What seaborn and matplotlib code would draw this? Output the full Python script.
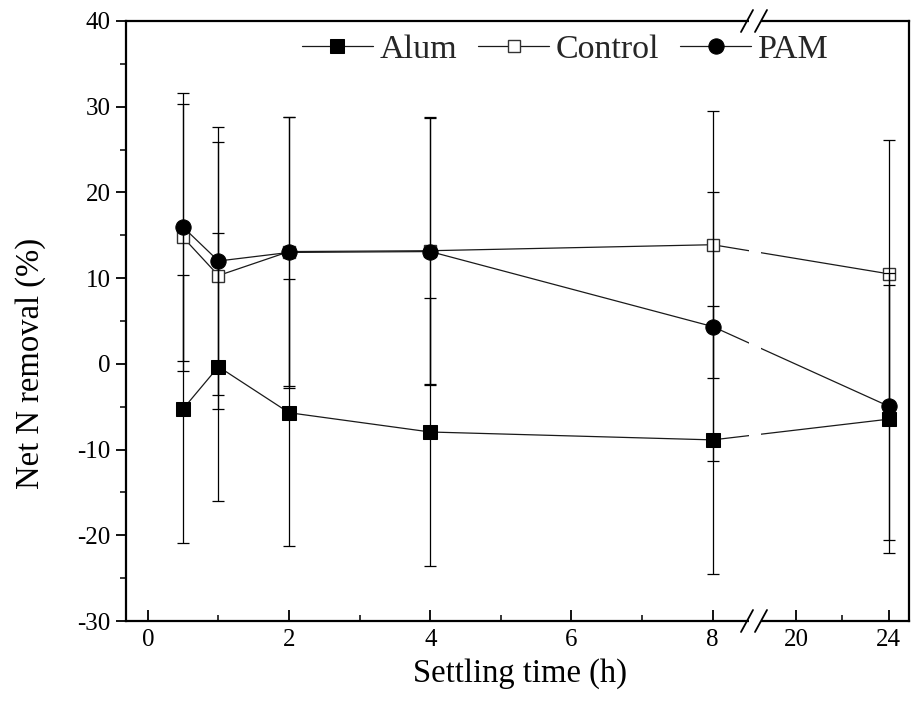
import numpy as np
import pandas as pd
import matplotlib
matplotlib.use("Agg")
import matplotlib.pyplot as plt
import seaborn as sns
from matplotlib.ticker import FixedLocator, FixedFormatter, MultipleLocator
from matplotlib.patches import Rectangle
from matplotlib.lines import Line2D

# ---------------- data ----------------
times = [0.5, 1, 2, 4, 8, 24]
alum = [-5.25, -0.33, -5.7, -7.95, -8.87, -6.45]
alum_err = [15.65, 15.65, 15.6, 15.63, 15.6, 15.6]
control = [14.75, 10.3, 13.1, 13.2, 13.9, 10.5]
control_err = [15.6, 15.6, 15.67, 15.6, 15.6, 15.6]
pam = [15.95, 12.0, 13.0, 13.1, 4.35, -4.95]
pam_err = [15.6, 15.6, 15.76, 15.6, 15.65, 15.6]

x_major = [0, 2, 4, 6, 8, 20, 24]
x_major_labels = ["0", "2", "4", "6", "8", "20", "24"]
x_minor = [1, 3, 5, 7, 22]
y_ticks = [-30, -20, -10, 0, 10, 20, 30, 40]

# ---------------- style ----------------
sns.set_theme(style="ticks")
plt.rcParams["font.family"] = ["Liberation Serif", "DejaVu Serif"]
plt.rcParams["axes.unicode_minus"] = False

W, H = 911, 723
fig = plt.figure(figsize=(W / 100, H / 100), dpi=100)
L, R, T, B = 126, 909, 21, 621
ax = fig.add_axes([L / W, 1 - B / H, (R - L) / W, (B - T) / H])

line_c = "#1a1a1a"
series = [
    ("Alum", alum, alum_err, dict(marker="s", markersize=9.5, markerfacecolor="black", markeredgecolor="black")),
    ("Control", control, control_err, dict(marker="s", markersize=9, markerfacecolor="white", markeredgecolor="#333333", markeredgewidth=1.0)),
    ("PAM", pam, pam_err, dict(marker="o", markersize=11, markerfacecolor="black", markeredgecolor="black")),
]

for name, vals, err, mk in series:
    df = pd.DataFrame({"time": times, "value": vals})
    sns.lineplot(data=df, x="time", y="value", ax=ax, color=line_c, lw=0.9,
                 label=name, errorbar=None, sort=False, zorder=2, **mk)

for name, vals, err, mk in series:
    ax.errorbar(times, vals, yerr=err, fmt="none", ecolor="black",
                elinewidth=0.9, capsize=4.5, capthick=0.9, zorder=3)

# ---------------- broken x scale ----------------
BX = [-100.0, 8.6, 18.26, 100.0]
BF = [-100.0, 8.6, 8.61, 8.61 + (100 - 18.26) * 0.3283]


def fwd(x):
    return np.interp(np.asarray(x, dtype=float), BX, BF)


def inv(f):
    return np.interp(np.asarray(f, dtype=float), BF, BX)


ax.set_xscale("function", functions=(fwd, inv))
ax.set_xlim(-0.309, 24.87)
ax.set_ylim(-30, 40)

ax.xaxis.set_major_locator(FixedLocator(x_major))
ax.xaxis.set_major_formatter(FixedFormatter(x_major_labels))
ax.xaxis.set_minor_locator(FixedLocator(x_minor))
ax.yaxis.set_major_locator(FixedLocator(y_ticks))
ax.yaxis.set_minor_locator(MultipleLocator(5))

ax.tick_params(axis="x", which="major", direction="in", length=8, width=1.3,
               labelsize=18, pad=6, colors="black", top=False)
ax.tick_params(axis="x", which="minor", direction="in", length=4.5, width=1.3,
               top=False)
ax.tick_params(axis="y", which="major", direction="out", length=7, width=1.3,
               labelsize=18, pad=4, colors="black", right=False)
ax.tick_params(axis="y", which="minor", direction="out", length=4, width=1.3,
               right=False)

for sp in ax.spines.values():
    sp.set_visible(True)
    sp.set_linewidth(1.6)
    sp.set_color("black")

ax.set_xlabel("Settling time (h)", fontsize=23.5, color="black")
ax.set_ylabel("Net N removal (%)", fontsize=23.5, color="black")
ax.xaxis.set_label_coords(0.503, -0.087)
ax.xaxis.label.set_va("center")
ax.yaxis.set_label_coords(-0.122, 0.43)
ax.yaxis.label.set_va("center")

# ---------------- break marks ----------------
aw = R - L
ah = B - T
g0 = (749 - L) / aw
g1 = (761 - L) / aw
ax.add_patch(Rectangle((g0, 0.0), g1 - g0, 1.0, transform=ax.transAxes,
                       facecolor="white", edgecolor="none", zorder=4))
for yb in (0.0, 1.0):
    ax.add_patch(Rectangle((g0, yb - 5 / ah), g1 - g0, 10 / ah, transform=ax.transAxes,
                           facecolor="white", edgecolor="none", zorder=5, clip_on=False))
    for cx in (747, 761):
        fx = (cx - L) / aw
        ax.add_line(Line2D([fx - 6 / aw, fx + 6 / aw], [yb - 11 / ah, yb + 11 / ah],
                           transform=ax.transAxes, color="black", lw=1.3,
                           clip_on=False, zorder=6))

# ---------------- legend ----------------
ax.legend(loc="center", bbox_to_anchor=(0.561, 0.953), ncol=3, frameon=False,
          fontsize=24.5, handlelength=2.1, handletextpad=0.2, columnspacing=0.6,
          borderaxespad=0)

fig.savefig("out.png", dpi=100)
